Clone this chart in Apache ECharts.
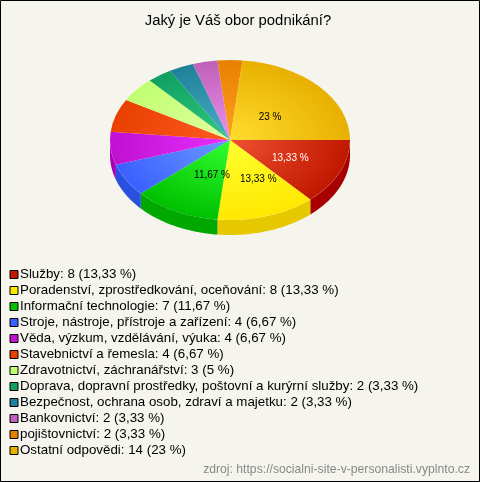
<!DOCTYPE html>
<html><head><meta charset="utf-8">
<style>html,body{margin:0;padding:0;background:#f5f5ee}#c{width:480px;height:482px}</style>
<script src="https://cdn.jsdelivr.net/npm/echarts@6/dist/echarts.min.js"></script>
</head><body><div id="c"></div>
<script>
const categories = ['Služby','Poradenství, zprostředkování, oceňování','Informační technologie','Stroje, nástroje, přístroje a zařízení','Věda, výzkum, vzdělávání, výuka','Stavebnictví a řemesla','Zdravotnictví, záchranářství','Doprava, dopravní prostředky, poštovní a kurýrní služby','Bezpečnost, ochrana osob, zdraví a majetku','Bankovnictví','pojištovnictví','Ostatní odpovědi'];
const values = [8,8,7,4,4,4,3,2,2,2,2,14];
const percentLabels = ['13,33','13,33','11,67','6,67','6,67','6,67','5','3,33','3,33','3,33','3,33','23'];
const edgeColors = ['#c01800','#ffe800','#00c000','#3a60ff','#c010d0','#e84000','#c0ff70','#10a060','#208098','#c060b8','#e88000','#e8b000'];
const centerColors = ['#f05030','#ffff30','#30ff30','#6a9aff','#e830ff','#ff5a20','#e0ffa0','#30c880','#48b0c8','#e890f0','#ffa020','#ffdd30'];
const sideColors = ['#a80000','#e5c800','#00a800','#2a50e0','#a800b8','#c03000','#a0d060','#108050','#186878','#a05098','#c06800','#c89000'];
const sliceLabels = {0:{dx:0,dy:0,fill:'#fff',r:.55},1:{r:.6,dx:6,dy:-6.5,fill:'#000'},2:{r:.55,dx:12,dy:-4,fill:'#000'},11:{r:.55,dx:-9,dy:7,fill:'#000'}};
const total = values.reduce((a,b)=>a+b,0);
const CX=230, CY=140, RX=120, RY=80, DEPTH=15;
let acc=0;
const spans = values.map(v=>{const s=acc/total*2*Math.PI; acc+=v; return [s,acc/total*2*Math.PI];});

function renderSlice(i){
  return function(){
    const [a0,a1]=spans[i], kids=[];
    // visible wall: only the front half of the ellipse
    const f0=Math.min(a0,Math.PI), f1=Math.min(a1,Math.PI);
    if(f1>f0){
      const pts=[],N=40;
      for(let k=0;k<=N;k++){const t=f0+(f1-f0)*k/N;pts.push([CX+RX*Math.cos(t),CY+RY*Math.sin(t)]);}
      for(let k=N;k>=0;k--){const t=f0+(f1-f0)*k/N;pts.push([CX+RX*Math.cos(t),CY+DEPTH+RY*Math.sin(t)]);}
      kids.push({type:'polygon',shape:{points:pts},style:{fill:sideColors[i]}});
    }
    kids.push({type:'sector',originX:CX,originY:CY,scaleY:RY/RX,
      shape:{cx:CX,cy:CY,r:RX,r0:0,startAngle:a0,endAngle:a1,clockwise:true},
      style:{fill:new echarts.graphic.RadialGradient(CX,CY,RX,[{offset:0,color:centerColors[i]},{offset:1,color:edgeColors[i]}],true)}});
    const L=sliceLabels[i];
    if(L){
      const m=(a0+a1)/2;
      kids.push({type:'text',style:{text:percentLabels[i]+' %',x:CX+RX*L.r*Math.cos(m)+(L.dx||0),y:CY+RY*L.r*Math.sin(m)+(L.dy||0),
        align:'center',verticalAlign:'middle',fill:L.fill,font:'10px "Liberation Sans"'},z2:50});
    }
    return {type:'group',children:kids};
  };
}
const chart=echarts.init(document.getElementById('c'),null,{renderer:'canvas'});
chart.setOption({
  animation:false,
  backgroundColor:'#f5f5ee',
  title:{text:'Jaký je Váš obor podnikání?',left:233,top:8,textAlign:'center',textStyle:{fontFamily:'Liberation Sans',fontSize:14.85,fontWeight:'normal',color:'#000'}},
  legend:{left:9.5,top:267.5,orient:'vertical',selectedMode:false,itemWidth:8,itemHeight:8,itemGap:2,padding:0,
    textStyle:{fontFamily:'Liberation Sans',fontSize:13.33,color:'#000',lineHeight:14,padding:[0,0,0,-3]},
    formatter:n=>{const i=categories.indexOf(n);return n+': '+values[i]+' ('+percentLabels[i]+' %)';},
    data:categories.map((n,i)=>({name:n,icon:'path://M0 0H10V10H0Z',itemStyle:{color:edgeColors[i],borderColor:'#000',borderWidth:1,borderJoin:'miter'}}))},
  graphic:[
    {type:'rect',silent:true,z:100,shape:{x:0.5,y:0.5,width:479,height:481},style:{fill:null,stroke:'#000',lineWidth:1}},
    {type:'text',silent:true,z:100,style:{text:'zdroj: https://socialni-site-v-personalisti.vyplnto.cz',x:470,y:470,align:'right',verticalAlign:'middle',fill:'#888',font:'12.2px "Liberation Sans"'}}
  ],
  series:categories.map((n,i)=>({type:'custom',name:n,coordinateSystem:'none',data:[values[i]],itemStyle:{color:edgeColors[i]},renderItem:renderSlice(i),silent:true}))
});
</script></body></html>
